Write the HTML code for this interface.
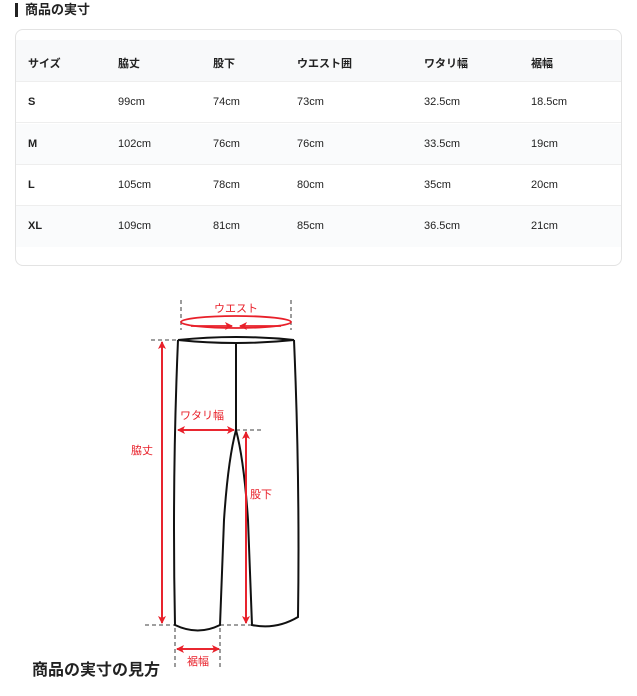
<!DOCTYPE html>
<html><head><meta charset="utf-8"><style>
body{margin:0;width:637px;height:696px;background:#fff;font-family:"Liberation Sans","Noto Sans CJK JP",sans-serif;position:relative;overflow:hidden;color:#222}
.h{position:absolute;left:15px;top:3px;font-size:13px;font-weight:bold;border-left:3px solid #222;padding-left:7px;line-height:14px}
.card{position:absolute;left:15px;top:29px;width:607px;height:237px;border:1px solid #e3e3e3;border-radius:8px;box-sizing:border-box}
.row{position:absolute;left:16px;width:605px;height:41px;font-size:11px;border-bottom:1px solid #eee;box-sizing:border-box}
.row span{position:absolute;top:14px}
.b{font-weight:bold}
</style></head><body>
<div class="h">商品の実寸</div>
<div class="card"></div>
<div class="row b" style="top:40px;height:42px;background:#f8f9fa"><span style="left:12px;top:15px">サイズ</span><span style="left:102px;top:15px">脇丈</span><span style="left:197px;top:15px">股下</span><span style="left:281px;top:15px">ウエスト囲</span><span style="left:408px;top:15px">ワタリ幅</span><span style="left:515px;top:15px">裾幅</span></div>
<div class="row" style="top:82px"><span class="b" style="left:12px">S</span><span style="left:102px">99cm</span><span style="left:197px">74cm</span><span style="left:281px">73cm</span><span style="left:408px">32.5cm</span><span style="left:515px">18.5cm</span></div>
<div class="row" style="top:124px;background:#fafbfc"><span class="b" style="left:12px">M</span><span style="left:102px">102cm</span><span style="left:197px">76cm</span><span style="left:281px">76cm</span><span style="left:408px">33.5cm</span><span style="left:515px">19cm</span></div>
<div class="row" style="top:165px"><span class="b" style="left:12px">L</span><span style="left:102px">105cm</span><span style="left:197px">78cm</span><span style="left:281px">80cm</span><span style="left:408px">35cm</span><span style="left:515px">20cm</span></div>
<div class="row" style="top:206px;background:#fafbfc;border-bottom:none"><span class="b" style="left:12px">XL</span><span style="left:102px">109cm</span><span style="left:197px">81cm</span><span style="left:281px">85cm</span><span style="left:408px">36.5cm</span><span style="left:515px">21cm</span></div>
<svg width="637" height="696" style="position:absolute;left:0;top:0" font-family="Liberation Sans,Noto Sans CJK JP,sans-serif">
<defs><marker id="a" markerWidth="8" markerHeight="8" refX="7" refY="4" orient="auto" markerUnits="userSpaceOnUse"><path d="M0,0L8,4L0,8L2,4z" fill="#e8202a"/></marker></defs>
<g stroke="#666" stroke-width="1.3" stroke-dasharray="4,3" fill="none">
<path d="M181,300V330M291,300V330M151,340H178M236,430H263M145,625H175M220,625H252M175,628V668M220,628V668"/>
</g>
<g stroke="#111" stroke-width="2" fill="none">
<path d="M178,340Q236,334 294,340Q236,346 178,340Z"/>
<path d="M236,343V430"/>
<path d="M178,340Q172,480 175,625Q198,636 220,625L224,520Q228,460 236,430Q244,460 248,520L252,625Q276,630 298,617Q300,480 294,340"/>
</g>
<g stroke="#e8202a" stroke-width="1.8" fill="none">
<ellipse cx="236" cy="322" rx="55" ry="6"/>
<path d="M191,326H232" marker-end="url(#a)"/><path d="M281,326H240" marker-end="url(#a)"/>
<path d="M162,623V342" marker-end="url(#a)"/><path d="M162,342V623" marker-end="url(#a)"/>
<path d="M234,430H178" marker-end="url(#a)"/><path d="M178,430H234" marker-end="url(#a)"/>
<path d="M246,623V432" marker-end="url(#a)"/><path d="M246,432V623" marker-end="url(#a)"/>
<path d="M219,649H177" marker-end="url(#a)"/><path d="M177,649H219" marker-end="url(#a)"/>
</g>
<g fill="#e8202a" font-size="11">
<text x="214" y="312">ウエスト</text><text x="180" y="419">ワタリ幅</text><text x="131" y="454">脇丈</text><text x="250" y="498">股下</text><text x="187" y="665">裾幅</text>
</g>
<text x="32" y="675" font-size="16" font-weight="bold" fill="#222">商品の実寸の見方</text>
</svg>
</body></html>
